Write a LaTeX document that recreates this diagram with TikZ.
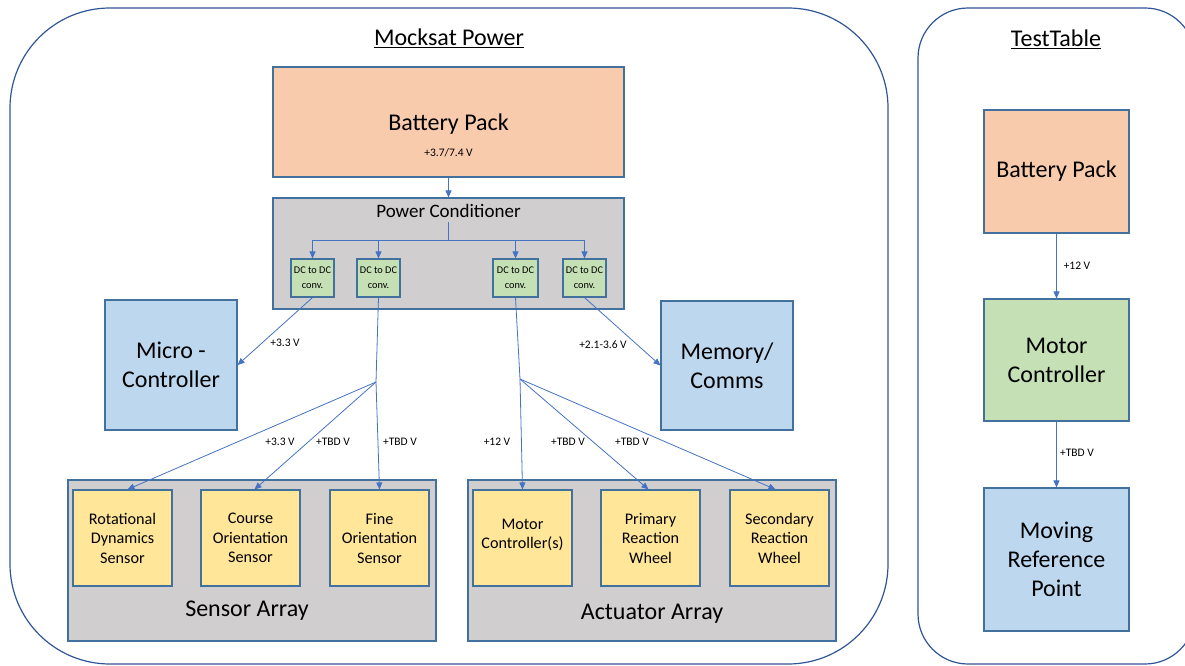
\documentclass[tikz,border=0pt]{standalone}
\usepackage{fontspec}
\setmainfont{Carlito}
\usetikzlibrary{arrows.meta}
\definecolor{peach}{HTML}{F8CBAD}
\definecolor{panel}{HTML}{D0CECE}
\definecolor{mint}{HTML}{C5E0B4}
\definecolor{sky}{HTML}{BDD7EE}
\definecolor{sand}{HTML}{FFE699}
\definecolor{rim}{HTML}{41719C}
\definecolor{frame}{HTML}{2F5597}
\definecolor{wire}{HTML}{4472C4}
\tikzset{
  x=1pt, y=-1pt,
  blk/.style={draw=rim, line width=1.1pt, inner sep=0pt, align=center},
  container/.style={draw=frame, line width=1.2pt, rounded corners=#1, inner sep=0pt},
  wire/.style={draw=wire, line width=0.8pt},
  feed/.style={wire, -{Triangle[length=7pt,width=6pt]}},
  bigtxt/.style={font=\fontsize{24}{29}\selectfont, align=center},
  midtxt/.style={font=\fontsize{16.2}{19.5}\selectfont, align=center},
  tinytxt/.style={font=\fontsize{10.3}{15}\selectfont, align=center},
  volt/.style={font=\fontsize{11.5}{13}\selectfont, inner sep=1pt},
}
\begin{document}
\begin{tikzpicture}
\useasboundingbox (0,0) rectangle (1185,666);

% outer frames
\node[container=100pt, minimum width=878pt, minimum height=656pt] (mocksat) at (449,336) {};
\node[container=50pt, minimum width=277pt, minimum height=656pt] (testtable) at (1056.5,336) {};
\node[bigtxt] (mocktitle) at (449,38) {\underline{Mocksat Power}};
\node[bigtxt] (tttitle) at (1056,39) {\underline{TestTable}};

% battery and power conditioner
\node[blk, fill=peach, minimum width=351pt, minimum height=110pt] (bat) at (448.5,122) {};
\node[bigtxt] (battxt) at (448.5,124) {Battery Pack};
\node[volt] (batv) at (448.5,153) {+3.7/7.4 V};
\node[blk, fill=panel, minimum width=351pt, minimum height=111pt] (pc) at (448.5,253.5) {};
\node[font=\fontsize{19}{22}\selectfont] (pctxt) at (448.5,211) {Power Conditioner};

\node[blk, fill=mint, minimum width=43pt, minimum height=38pt, tinytxt] (dc1) at (312.5,278) {DC to DC\\conv.};
\node[blk, fill=mint, minimum width=43pt, minimum height=38pt, tinytxt] (dc2) at (378.5,278) {DC to DC\\conv.};
\node[blk, fill=mint, minimum width=45pt, minimum height=38pt, tinytxt] (dc3) at (515.5,278) {DC to DC\\conv.};
\node[blk, fill=mint, minimum width=43pt, minimum height=38pt, tinytxt] (dc4) at (584.5,278) {DC to DC\\conv.};

\coordinate (pcin) at (448.5,222);
\coordinate (bus) at (448.5,240);
\draw[feed] (bat) -- (pc);
\draw[wire] (pcin) -- (bus);
\draw[wire] (bus -| dc1) -- (bus -| dc4);
\foreach \d in {dc1,dc2,dc3,dc4}
  \draw[feed] (bus -| \d) -- (\d.north);

% controller and memory
\node[blk, fill=sky, minimum width=132pt, minimum height=130pt, bigtxt] (mcu) at (171,365) {Micro -\\Controller};
\node[blk, fill=sky, minimum width=132pt, minimum height=129pt, bigtxt] (mem) at (727,365.5) {Memory/\\Comms};
\draw[feed] (dc1.south) -- (mcu.east);
\draw[feed] (dc4.south) -- (mem.west);
\node[volt] (v1) at (285,343) {+3.3 V};
\node[volt] (v2) at (603,345) {+2.1-3.6 V};

% sensor array
\node[blk, fill=panel, minimum width=368pt, minimum height=161pt] (sens) at (252,560.5) {};
\node[bigtxt] (senstxt) at (247,611) {Sensor Array};
\node[blk, fill=sand, minimum width=99pt, minimum height=96pt, midtxt] (rot) at (122.5,538) {Rotational\\Dynamics\\Sensor};
\node[blk, fill=sand, minimum width=99pt, minimum height=96pt, midtxt] (crs) at (250.5,538) {Course\\Orientation\\Sensor};
\node[blk, fill=sand, minimum width=99pt, minimum height=96pt, midtxt] (fine) at (379.5,538) {Fine\\Orientation\\Sensor};

% actuator array
\node[blk, fill=panel, minimum width=368pt, minimum height=161pt] (act) at (652,560.5) {};
\node[bigtxt] (acttxt) at (652,614) {Actuator Array};
\node[blk, fill=sand, minimum width=99pt, minimum height=96pt] (mot) at (522.5,538) {};
\node[midtxt] (mottxt) at (522.5,535) {Motor\\Controller(s)};
\node[blk, fill=sand, minimum width=99pt, minimum height=96pt, midtxt] (prw) at (650.5,538) {Primary\\Reaction\\Wheel};
\node[blk, fill=sand, minimum width=99pt, minimum height=96pt, midtxt] (srw) at (779.5,538) {Secondary\\Reaction\\Wheel};

% distribution to the arrays
\coordinate (js) at (376,382);
\coordinate (ja) at (520,379);
\draw[wire] (dc2.south) -- (js);
\draw[wire] (dc3.south) -- (ja);
\draw[feed] (js) -- ([xshift=5pt]rot.north);
\draw[feed] (js) -- ([xshift=4pt]crs.north);
\draw[feed] (js) -- (fine.north);
\draw[feed] (ja) -- (mot.north);
\draw[feed] (ja) -- ([xshift=-2pt]prw.north);
\draw[feed] (ja) -- ([xshift=-4pt]srw.north);
\node[volt] (v3) at (280,442) {+3.3 V};
\node[volt] (v4) at (333,442) {+TBD V};
\node[volt] (v5) at (400,442) {+TBD V};
\node[volt] (v6) at (497,442) {+12 V};
\node[volt] (v7) at (568,442) {+TBD V};
\node[volt] (v8) at (632,442) {+TBD V};

% test table chain
\node[blk, fill=peach, minimum width=145pt, minimum height=123pt, bigtxt] (tbat) at (1056.5,171.5) {Battery Pack};
\node[blk, fill=mint, minimum width=145pt, minimum height=122pt, bigtxt] (tmc) at (1056.5,360) {Motor\\Controller};
\node[blk, fill=sky, minimum width=145pt, minimum height=143pt, bigtxt] (tmrp) at (1056.5,559.5) {Moving\\Reference\\Point};
\draw[feed] (tbat) -- (tmc);
\draw[feed] (tmc) -- (tmrp);
\node[volt] (v9) at (1077,266) {+12 V};
\node[volt] (v10) at (1077,453) {+TBD V};
\end{tikzpicture}
\end{document}
